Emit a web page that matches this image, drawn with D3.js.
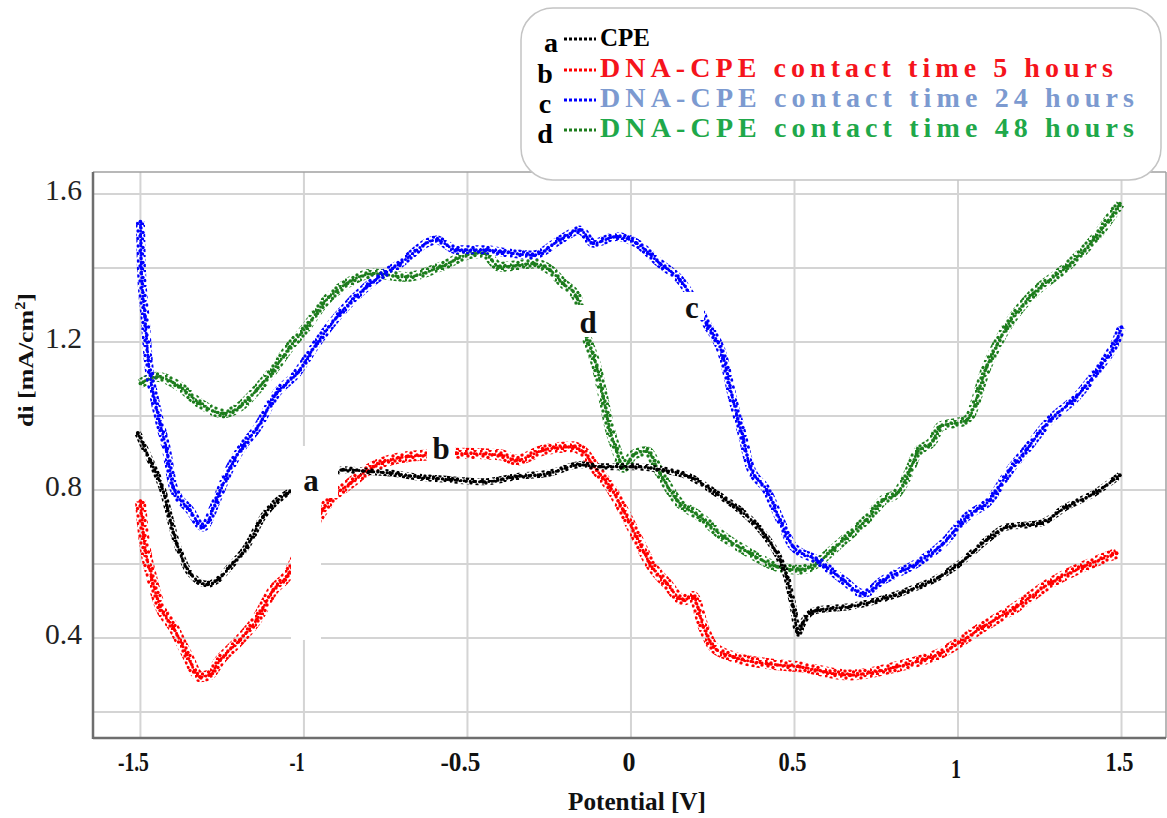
<!DOCTYPE html>
<html><head><meta charset="utf-8">
<script src="https://cdn.jsdelivr.net/npm/d3@7"></script>
<style>body{margin:0;background:#fff}svg{display:block}</style>
</head><body>
<svg id="c" width="1167" height="818"></svg>
<script>
// ---- data: [potential V, di mA/cm2] ----
const seriesA = [[-1.508,0.954],[-1.47,0.88],[-1.435,0.809],[-1.389,0.656],[-1.349,0.576],[-1.294,0.545],[-1.26,0.56],[-1.226,0.593],[-1.175,0.647],[-1.125,0.728],[-1.053,0.79],[-1.0,0.81],[-0.93,0.836],[-0.88,0.855],[-0.80,0.85],[-0.737,0.846],[-0.65,0.835],[-0.553,0.828],[-0.452,0.822],[-0.35,0.836],[-0.248,0.846],[-0.156,0.868],[-0.095,0.863],[0.006,0.863],[0.099,0.854],[0.18,0.836],[0.262,0.79],[0.333,0.746],[0.404,0.684],[0.456,0.611],[0.476,0.566],[0.496,0.485],[0.511,0.413],[0.525,0.44],[0.547,0.467],[0.568,0.475],[0.67,0.485],[0.823,0.521],[0.945,0.566],[1.006,0.602],[1.088,0.665],[1.149,0.70],[1.251,0.71],[1.332,0.755],[1.414,0.79],[1.495,0.84]];
const seriesB = [[-1.50,0.77],[-1.49,0.674],[-1.466,0.566],[-1.44,0.485],[-1.40,0.43],[-1.359,0.358],[-1.318,0.295],[-1.29,0.30],[-1.257,0.34],[-1.196,0.395],[-1.145,0.449],[-1.094,0.53],[-1.053,0.566],[-1.002,0.656],[-0.961,0.719],[-0.92,0.773],[-0.859,0.818],[-0.788,0.863],[-0.686,0.89],[-0.60,0.895],[-0.533,0.899],[-0.40,0.895],[-0.35,0.881],[-0.268,0.908],[-0.176,0.917],[-0.146,0.903],[-0.105,0.854],[-0.064,0.809],[-0.024,0.746],[0.017,0.674],[0.058,0.602],[0.109,0.548],[0.16,0.503],[0.19,0.512],[0.221,0.431],[0.252,0.376],[0.313,0.349],[0.415,0.331],[0.517,0.322],[0.67,0.30],[0.812,0.322],[0.945,0.358],[1.078,0.431],[1.18,0.485],[1.281,0.548],[1.383,0.593],[1.485,0.629]];
const seriesC = [[-1.50,1.525],[-1.497,1.40],[-1.486,1.268],[-1.476,1.151],[-1.456,1.043],[-1.44,0.98],[-1.42,0.908],[-1.40,0.809],[-1.349,0.746],[-1.308,0.70],[-1.267,0.773],[-1.226,0.86],[-1.186,0.92],[-1.145,0.965],[-1.084,1.061],[-1.022,1.115],[-0.961,1.196],[-0.89,1.277],[-0.808,1.35],[-0.706,1.412],[-0.594,1.476],[-0.533,1.449],[-0.441,1.449],[-0.40,1.444],[-0.299,1.435],[-0.217,1.476],[-0.156,1.503],[-0.115,1.467],[-0.044,1.485],[0.017,1.467],[0.089,1.412],[0.15,1.368],[0.231,1.25],[0.282,1.16],[0.313,1.04],[0.343,0.94],[0.364,0.863],[0.415,0.80],[0.456,0.719],[0.496,0.647],[0.568,0.611],[0.649,0.557],[0.71,0.52],[0.772,0.557],[0.874,0.602],[0.955,0.656],[1.027,0.728],[1.098,0.773],[1.159,0.854],[1.21,0.91],[1.281,0.989],[1.363,1.052],[1.434,1.133],[1.485,1.205],[1.50,1.24]];
const seriesD = [[-1.50,1.088],[-1.45,1.106],[-1.379,1.079],[-1.318,1.034],[-1.247,1.007],[-1.196,1.025],[-1.145,1.07],[-1.094,1.124],[-1.043,1.187],[-0.992,1.241],[-0.941,1.304],[-0.869,1.358],[-0.788,1.385],[-0.686,1.376],[-0.584,1.403],[-0.482,1.439],[-0.452,1.44],[-0.40,1.403],[-0.299,1.412],[-0.248,1.395],[-0.207,1.358],[-0.166,1.322],[-0.136,1.214],[-0.105,1.133],[-0.085,1.052],[-0.064,0.962],[-0.044,0.908],[-0.024,0.86],[0.007,0.895],[0.048,0.905],[0.089,0.845],[0.14,0.773],[0.211,0.728],[0.282,0.674],[0.364,0.629],[0.446,0.593],[0.517,0.584],[0.568,0.602],[0.619,0.64],[0.67,0.68],[0.721,0.72],[0.772,0.773],[0.812,0.79],[0.853,0.854],[0.874,0.899],[0.924,0.935],[0.945,0.971],[1.027,0.989],[1.088,1.133],[1.149,1.241],[1.23,1.331],[1.332,1.403],[1.414,1.476],[1.495,1.574]];

const seriesLetters = ["a","b","c","d"];
const seriesNames = ["CPE","DNA-CPE contact time 5 hours","DNA-CPE contact time 24 hours","DNA-CPE contact time 48 hours"];
const xTicks = [-1.5,-1,-0.5,0,0.5,1,1.5];
const xTickLabels = ["-1.5","-1","-0.5","0","0.5","1","1.5"];
const yGrid = [0.2,0.4,0.6,0.8,1.0,1.2,1.4,1.6];
const yTicks = [0.4,0.8,1.2,1.6];
const yTickLabels = ["0.4","0.8","1.2","1.6"];

// ---- layout / style ----
const W=1167,H=818;
const L=93,R=1166,T=172,B=738;
const x=d3.scaleLinear().domain([-1.645,1.636]).range([L,R]);
const y=d3.scaleLinear().domain([0.2-(B-712)/370, 0.2+(712-T)/370]).range([B,T]);
const colors=["#000000","#ff0000","#0000ff","#1d7d1d"];
const legendColors=["#000000","#f5141c","#7c9ad0","#1fa84a"];
const bandW=[7,11,9,10];
const serif="'Liberation Serif','Times New Roman',serif";

const svg=d3.select("#c");
svg.append("rect").attr("width",W).attr("height",H).attr("fill","#fff");

// dot textures for the scatter bands
const defs=svg.append("defs");
const dotTile=[[1,1],[6,3],[10,0.5],[3,6],[8,7.5],[12,5],[0.5,10],[5,11],[10,10.5],[13.5,12],[2.5,13.5],[7.5,14]];
colors.forEach((c,i)=>{
  const p=defs.append("pattern").attr("id","dots"+i).attr("patternUnits","userSpaceOnUse")
    .attr("width",15).attr("height",15);
  p.selectAll("circle").data(dotTile).join("circle")
    .attr("cx",d=>d[0]).attr("cy",d=>d[1]).attr("r",1.7).attr("fill",c);
});

const g=svg.append("g");
g.selectAll(".vg").data(xTicks).join("line")
 .attr("x1",d=>x(d)).attr("x2",d=>x(d)).attr("y1",T).attr("y2",B)
 .attr("stroke","#d4d4d4").attr("stroke-width",2);
g.selectAll(".hg").data(yGrid).join("line")
 .attr("y1",d=>y(d)).attr("y2",d=>y(d)).attr("x1",L).attr("x2",R)
 .attr("stroke","#d4d4d4").attr("stroke-width",2);
g.append("line").attr("x1",L).attr("x2",R).attr("y1",T).attr("y2",T).attr("stroke","#a0a0a0").attr("stroke-width",1.5);
g.append("line").attr("x1",R).attr("x2",R).attr("y1",T).attr("y2",B).attr("stroke","#a0a0a0").attr("stroke-width",1.5);
g.append("line").attr("x1",L).attr("x2",L).attr("y1",T).attr("y2",B+1).attr("stroke","#6e6e6e").attr("stroke-width",2.5);
g.append("line").attr("x1",L).attr("x2",R).attr("y1",B).attr("y2",B).attr("stroke","#6e6e6e").attr("stroke-width",2.5);

// series
const allSeries=[seriesA,seriesB,seriesC,seriesD];
const order=[3,2,1,0];
const line=d3.line().x(d=>x(d[0])).y(d=>y(d[1])).curve(d3.curveMonotoneX);
const sg=svg.append("g");
order.forEach(i=>{
  const s=allSeries[i], c=colors[i];
  sg.append("path").datum(s).attr("d",line).attr("fill","none")
    .attr("stroke","url(#dots"+i+")").attr("stroke-width",bandW[i])
    .attr("stroke-linejoin","round");
  sg.append("path").datum(s).attr("d",line).attr("fill","none")
    .attr("stroke",c).attr("stroke-width",3).attr("stroke-linecap","round")
    .attr("stroke-dasharray","0 3.2 0 2.1 0 4");
  sg.selectAll(null).data(s).join("circle")
    .attr("cx",d=>x(d[0])).attr("cy",d=>y(d[1])).attr("r",1.9).attr("fill",c);
});

// white label patches (as in the picture)
const lab=svg.append("g");
lab.append("rect").attr("x",291).attr("y",446).attr("width",30).attr("height",194).attr("fill","#fff");
lab.append("rect").attr("x",294).attr("y",462).attr("width",44).attr("height",36).attr("fill","#fff");
lab.append("rect").attr("x",427).attr("y",428).attr("width",28).attr("height",36).attr("fill","#fff");
lab.append("rect").attr("x",574).attr("y",305).attr("width",26).attr("height",32).attr("fill","#fff");
lab.append("rect").attr("x",680).attr("y",292).attr("width",24).attr("height",28).attr("fill","#fff");
const letterPos=[[311,491],[441,459],[692,318],[588,333]];
lab.selectAll("text").data(letterPos).join("text")
 .attr("x",d=>d[0]).attr("y",d=>d[1]).attr("text-anchor","middle")
 .attr("font-family",serif).attr("font-weight","bold").attr("font-size",31)
 .attr("fill","#111").text((d,i)=>seriesLetters[i]);

// axis labels
svg.selectAll(".yt").data(yTicks).join("text")
 .attr("x",82).attr("y",d=>y(d)+6).attr("text-anchor","end")
 .attr("font-family",serif).attr("font-size",29).attr("fill","#222")
 .attr("textLength",37).attr("lengthAdjust","spacingAndGlyphs")
 .text((d,i)=>yTickLabels[i]);
const xLabW=[31,15,40,13,28,10,28];
svg.selectAll(".xt").data(xTicks).join("text")
 .attr("x",d=>x(d)-(d<0?7:2)).attr("y",(d,i)=>i===5?778:771).attr("text-anchor","middle")
 .attr("font-family",serif).attr("font-weight","bold").attr("font-size",27).attr("fill","#111")
 .attr("textLength",(d,i)=>xLabW[i]).attr("lengthAdjust","spacingAndGlyphs")
 .text((d,i)=>xTickLabels[i]);
svg.append("text").attr("x",637).attr("y",810).attr("text-anchor","middle")
 .attr("font-family",serif).attr("font-weight","bold").attr("font-size",26).attr("fill","#111")
 .attr("textLength",138).attr("lengthAdjust","spacingAndGlyphs").text("Potential [V]");
const yt=svg.append("text").attr("transform","translate(33,360) rotate(-90)")
 .attr("text-anchor","middle").attr("font-family",serif).attr("font-weight","bold")
 .attr("font-size",22).attr("fill","#111")
 .attr("textLength",134).attr("lengthAdjust","spacingAndGlyphs");
yt.append("tspan").text("di [mA/cm");
yt.append("tspan").attr("dy",-8).attr("font-size",14).text("2");
yt.append("tspan").attr("dy",8).text("]");

// legend
const lg=svg.append("g");
lg.append("rect").attr("x",521).attr("y",8).attr("width",640).attr("height",172).attr("rx",32)
 .attr("fill","#fff").attr("stroke","#c4c4c4").attr("stroke-width",1.5);
const legY=[46,77,107,137];
const legLetterX=[551,545,545,545];
const legW=[null,513,534,534];
seriesNames.forEach((nm,i)=>{
  lg.append("text").attr("x",legLetterX[i]).attr("y",legY[i]+6).attr("text-anchor","middle")
    .attr("font-family",serif).attr("font-weight","bold").attr("font-size",28).attr("fill","#000")
    .text(seriesLetters[i]);
  lg.append("line").attr("x1",564).attr("x2",596).attr("y1",legY[i]-7).attr("y2",legY[i]-7)
    .attr("stroke",i===0?"#000":colors[i]).attr("stroke-width",3)
    .attr("stroke-dasharray","3 2");
  const t=lg.append("text").attr("x",600).attr("y",legY[i]).attr("font-family",serif).attr("font-weight","bold")
    .attr("font-size",i===0?25:28).attr("fill",legendColors[i]).text(nm);
  if(legW[i]) t.attr("textLength",legW[i]).attr("lengthAdjust","spacing");
});
</script>
</body></html>
